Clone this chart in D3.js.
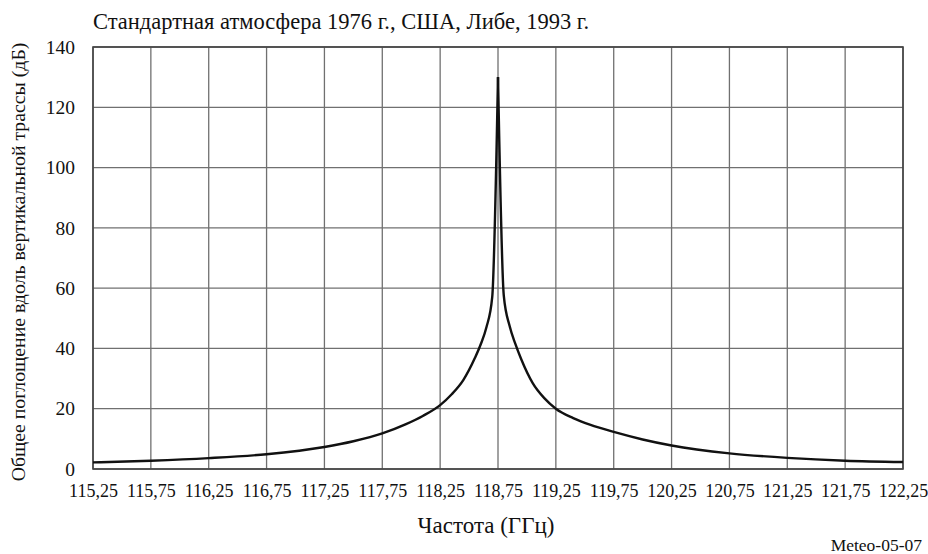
<!DOCTYPE html>
<html>
<head>
<meta charset="utf-8">
<script src="https://cdn.jsdelivr.net/npm/d3@7"></script>
<style>
  body { margin: 0; background: #fff; }
</style>
</head>
<body>
<svg id="chart"></svg>
<script>
const svgWidth = 928;
const svgHeight = 554;
const serif = "'Liberation Serif', 'DejaVu Serif', serif";

// datos
const freqs = [115.25, 115.75, 116.25, 116.75, 117.25, 117.50, 117.75, 117.95, 118.10,
  118.25, 118.35, 118.45, 118.55, 118.60, 118.65, 118.70, 118.75,
  118.80, 118.85, 118.90, 118.95, 119.05, 119.15, 119.25, 119.40, 119.55,
  119.75, 120.00, 120.25, 120.75, 121.25, 121.75, 122.25];
const attenuation = [2.2, 2.75, 3.6, 4.9, 7.3, 9.2, 11.8, 14.8, 17.6,
  21.2, 24.8, 29.5, 36.8, 41.3, 47.0, 57.0, 130,
  57.5, 47.5, 41.5, 36.5, 28.5, 23.5, 20.0, 16.9, 14.6,
  12.3, 9.8, 7.8, 5.2, 3.7, 2.75, 2.3];
const peakFreq = 118.75;
const xTicks = [115.25, 115.75, 116.25, 116.75, 117.25, 117.75, 118.25, 118.75,
  119.25, 119.75, 120.25, 120.75, 121.25, 121.75, 122.25];
const yTicks = [0, 20, 40, 60, 80, 100, 120, 140];

const titleText = "Стандартная атмосфера 1976 г., США, Либе, 1993 г.";
const xLabel = "Частота (ГГц)";
const yLabel = "Общее поглощение вдоль вертикальной трассы (дБ)";
const figId = "Meteo-05-07";

const margin = { top: 47, right: 25, bottom: 85, left: 93 };
const w = svgWidth - margin.left - margin.right;
const h = svgHeight - margin.top - margin.bottom;

const svg = d3.select("#chart")
    .attr("width", svgWidth)
    .attr("height", svgHeight);

const g = svg.append("g").attr("transform", `translate(${margin.left},${margin.top})`);

const x = d3.scaleLinear().domain([115.25, 122.25]).range([0, w]);
const y = d3.scaleLinear().domain([0, 140]).range([h, 0]);

// rejilla
g.selectAll(".vgrid")
    .data(xTicks)
    .enter()
    .append("line")
    .attr("x1", d => x(d)).attr("x2", d => x(d))
    .attr("y1", 0).attr("y2", h)
    .attr("stroke", "#707070")
    .attr("stroke-width", 1.3);

g.selectAll(".hgrid")
    .data(yTicks)
    .enter()
    .append("line")
    .attr("x1", 0).attr("x2", w)
    .attr("y1", d => y(d)).attr("y2", d => y(d))
    .attr("stroke", "#707070")
    .attr("stroke-width", 1.3);

g.append("rect")
    .attr("width", w).attr("height", h)
    .attr("fill", "none")
    .attr("stroke", "#444")
    .attr("stroke-width", 1.6);

// ejes
const xAxis = g.append("g")
    .attr("transform", `translate(0,${h})`)
    .call(d3.axisBottom(x).tickValues(xTicks).tickSize(0).tickPadding(15)
        .tickFormat(d => d3.format(".2f")(d).replace(".", ",")));
xAxis.select(".domain").remove();
xAxis.attr("font-family", serif).attr("font-size", 18);
xAxis.selectAll("text").attr("fill", "#111");

const yAxis = g.append("g")
    .call(d3.axisLeft(y).tickValues(yTicks).tickSize(0).tickPadding(18));
yAxis.select(".domain").remove();
yAxis.attr("font-family", serif).attr("font-size", 19.5);
yAxis.selectAll("text").attr("fill", "#111");

// curva: dos ramas para que el pico quede agudo
const line = d3.line()
    .x(d => x(d[0]))
    .y(d => y(d[1]))
    .curve(d3.curveMonotoneX);

const pts = freqs.map((f, i) => [f, attenuation[i]]);
const leftBranch = pts.filter(d => d[0] <= peakFreq);
const rightBranch = pts.filter(d => d[0] >= peakFreq);

g.selectAll(".branch")
    .data([leftBranch, rightBranch])
    .enter()
    .append("path")
    .attr("d", line)
    .attr("fill", "none")
    .attr("stroke", "#111")
    .attr("stroke-width", 2.4)
    .attr("stroke-linejoin", "miter");

// textos
svg.append("text")
    .attr("x", margin.left).attr("y", 29)
    .attr("font-family", serif)
    .attr("font-size", 22.5)
    .attr("fill", "#111")
    .text(titleText);

svg.append("text")
    .attr("x", 486).attr("y", 533)
    .attr("text-anchor", "middle")
    .attr("font-family", serif)
    .attr("font-size", 23)
    .attr("fill", "#111")
    .text(xLabel);

svg.append("text")
    .attr("transform", `translate(25,262) rotate(-90)`)
    .attr("text-anchor", "middle")
    .attr("font-family", serif)
    .attr("font-size", 19.8)
    .attr("fill", "#111")
    .text(yLabel);

svg.append("text")
    .attr("x", 922).attr("y", 551)
    .attr("text-anchor", "end")
    .attr("font-family", serif)
    .attr("font-size", 17.5)
    .attr("fill", "#111")
    .text(figId);
</script>
</body>
</html>
